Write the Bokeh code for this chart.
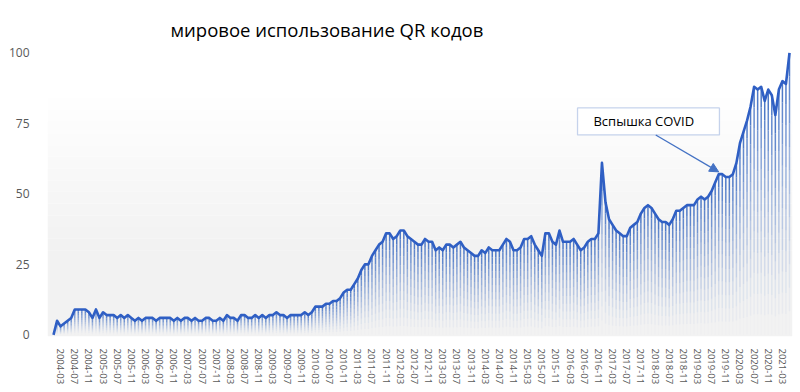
import numpy as np
from bokeh.plotting import figure
from bokeh.models import (ColumnDataSource, FixedTicker, BoxAnnotation, Label,
                          Arrow, NormalHead, Range1d, Title)
from bokeh.embed import file_html
from bokeh.resources import INLINE

# ---- data (monthly search interest, 2004-01 .. 2021-05) ----
v2004 = [0, 5, 3, 4, 5, 6, 9, 9, 9, 9, 8, 6]
v2005 = [9, 6, 8, 7, 7, 7, 6, 7, 6, 7, 6, 5]
v2006 = [6, 5, 6, 6, 6, 5, 6, 6, 6, 6, 5, 6]
v2007 = [5, 6, 6, 5, 6, 5, 5, 6, 6, 5, 5, 6]
v2008 = [5, 7, 6, 6, 5, 7, 7, 6, 6, 7, 6, 7]
v2009 = [6, 7, 7, 8, 7, 7, 6, 7, 7, 7, 7, 8]
v2010 = [7, 8, 10, 10, 10, 11, 11, 12, 12, 13, 15, 16]
v2011 = [16, 18, 20, 23, 25, 25, 28, 30, 32, 33, 36, 36]
v2012 = [34, 35, 37, 37, 35, 34, 33, 32, 32, 34, 33, 33]
v2013 = [30, 31, 30, 32, 32, 31, 32, 33, 31, 30, 29, 28]
v2014 = [28, 30, 29, 31, 30, 30, 30, 32, 34, 33, 30, 30]
v2015 = [31, 34, 34, 35, 32, 30, 28, 36, 36, 33, 32, 37]
v2016 = [33, 33, 33, 34, 32, 30, 31, 33, 34, 34, 36, 61]
v2017 = [47, 41, 39, 37, 36, 35, 35, 38, 39, 40, 43, 45]
v2018 = [46, 45, 43, 41, 40, 40, 39, 41, 44, 44, 45, 46]
v2019 = [46, 46, 48, 49, 48, 49, 51, 54, 57, 57, 56, 56]
v2020 = [57, 61, 68, 72, 76, 81, 88, 87, 88, 83, 87, 85]
v2021 = [78, 87, 90, 89, 100]

tick_labels = [
    "2004-03", "2004-07", "2004-11", "2005-03", "2005-07", "2005-11",
    "2006-03", "2006-07", "2006-11", "2007-03", "2007-07", "2007-11",
    "2008-03", "2008-07", "2008-11", "2009-03", "2009-07", "2009-11",
    "2010-03", "2010-07", "2010-11", "2011-03", "2011-07", "2011-11",
    "2012-03", "2012-07", "2012-11", "2013-03", "2013-07", "2013-11",
    "2014-03", "2014-07", "2014-11", "2015-03", "2015-07", "2015-11",
    "2016-03", "2016-07", "2016-11", "2017-03", "2017-07", "2017-11",
    "2018-03", "2018-07", "2018-11", "2019-03", "2019-07", "2019-11",
    "2020-03", "2020-07", "2020-11", "2021-03",
]
y_ticks = [0, 25, 50, 75, 100]

title_text = "мировое использование QR кодов"
note_text = "Вспышка COVID"

# ---- build ----
values = (v2004 + v2005 + v2006 + v2007 + v2008 + v2009 + v2010 + v2011 +
          v2012 + v2013 + v2014 + v2015 + v2016 + v2017 + v2018 + v2019 +
          v2020 + v2021)
n = len(values)
xs = list(range(n))

def month_index(lbl):
    y, m = lbl.split("-")
    return (int(y) - 2004) * 12 + int(m) - 1

tick_idx = [month_index(t) for t in tick_labels]

BLUE = "#4472C4"
LINE = "#2F5FC4"
FONT = "Open Sans"

p = figure(width=798, height=390, output_backend="svg", toolbar_location=None,
           x_range=Range1d(-1.7, n - 1 + 0.85), y_range=Range1d(-0.6, 103),
           min_border_left=47, min_border_right=6, min_border_top=44,
           min_border_bottom=54)
p.title = Title(text=title_text, align="left", offset=123,
                text_font=FONT, text_font_size="18.5px", text_font_style="normal",
                text_color="#000000", standoff=5)
p.background_fill_color = "white"
p.border_fill_color = "white"
p.outline_line_color = None
p.grid.grid_line_color = None

# background gradient (decoration)
top_v, mid_v = 88.0, 30.0
nb = 14
for k in range(nb):
    t0 = top_v - (top_v - mid_v) * k / nb
    t1 = top_v - (top_v - mid_v) * (k + 1) / nb
    c = int(round(255 - 13 * (k + 0.5) / nb))
    p.add_layout(BoxAnnotation(top=t0, bottom=t1, fill_color=f"#{c:02x}{c:02x}{c:02x}",
                               fill_alpha=1, line_color=None, level="underlay"))
p.add_layout(BoxAnnotation(top=mid_v, bottom=-0.6, fill_color="#f2f2f2",
                           fill_alpha=1, line_color=None, level="underlay"))

# gradient bars: each bar split into segments with rising opacity
K = 12
bx, bb, bt, ba = [], [], [], []
for i, v in enumerate(values):
    for k in range(K):
        bx.append(i)
        bb.append(v * k / K)
        bt.append(v * (k + 1) / K)
        ba.append(((k + 0.5) / K) ** 1.4)
bars = ColumnDataSource(dict(x=bx, b=bb, t=bt, a=ba))
p.vbar(x="x", bottom="b", top="t", width=0.42, source=bars,
       fill_color=BLUE, fill_alpha="a", line_color=None)

src = ColumnDataSource(dict(x=xs, y=values))
p.line("x", "y", source=src, line_color=LINE, line_width=2.6, line_join="round")

# axes
p.yaxis.ticker = FixedTicker(ticks=y_ticks)
p.yaxis.axis_line_color = None
p.yaxis.major_tick_line_color = None
p.yaxis.minor_tick_line_color = None
p.yaxis.major_label_text_font = FONT
p.yaxis.major_label_text_font_size = "12px"
p.yaxis.major_label_text_color = "#595959"
p.yaxis.major_label_standoff = 12

p.xaxis.ticker = FixedTicker(ticks=tick_idx)
p.xaxis.major_label_overrides = {i: l for i, l in zip(tick_idx, tick_labels)}
p.xaxis.major_label_orientation = "vertical"
p.xaxis.axis_line_color = None
p.xaxis.major_tick_line_color = None
p.xaxis.minor_tick_line_color = None
p.xaxis.major_label_text_font = FONT
p.xaxis.major_label_text_font_size = "9.5px"
p.xaxis.major_label_text_color = "#595959"
p.xaxis.major_label_standoff = 6

# COVID callout
box_l, box_r, box_t, box_b = 148.1, 188.2, 80.5, 70.9
p.add_layout(BoxAnnotation(left=box_l, right=box_r, top=box_t, bottom=box_b,
                           fill_color="white", fill_alpha=1,
                           line_color=BLUE, line_width=1.3))
p.add_layout(Label(x=152.6, y=75.7, text=note_text, text_baseline="middle",
                   text_font=FONT, text_font_size="13px", text_color="#000000"))
p.add_layout(Arrow(end=NormalHead(size=9, fill_color=BLUE, line_color=BLUE),
                   x_start=170.2, y_start=70.9, x_end=188.0, y_end=57.8,
                   line_color=BLUE, line_width=1.3))

open("out.html", "w").write(file_html(p, INLINE))
